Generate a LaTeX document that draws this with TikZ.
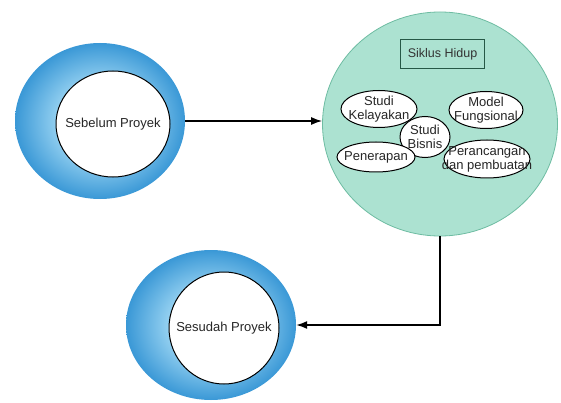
\documentclass[tikz,border=0pt]{standalone}
\usepackage{fontspec}
\setmainfont{Liberation Sans}
\usetikzlibrary{shapes.geometric,arrows.meta}
\definecolor{blueout}{RGB}{58,152,214}
\definecolor{bluein}{RGB}{152,211,242}
\definecolor{tealfill}{RGB}{172,226,209}
\definecolor{tealline}{RGB}{110,188,162}
\definecolor{boxline}{RGB}{38,88,70}
\pgfdeclareradialshading{ringshade}{\pgfpoint{0bp}{0bp}}{color(0bp)=(bluein); color(12bp)=(bluein); color(25bp)=(blueout); color(50bp)=(blueout)}
\begin{document}
\begin{tikzpicture}[x=1pt,y=-1pt,
  ring/.style={ellipse, shade, shading=ringshade, draw=none, inner sep=0pt},
  hole/.style={ellipse, fill=white, draw=black, line width=1pt, inner sep=0pt},
  holetext/.style={font=\fontsize{13}{15}\selectfont, inner sep=0pt, text=black!85},
  phase/.style={ellipse, fill=white, draw=black, line width=1pt, inner sep=0pt},
  phasetext/.style={align=center, inner sep=0pt, font=\fontsize{13}{14}\selectfont, text=black!85},
  link/.style={-{Latex[length=11pt,width=8pt]}, line width=1.4pt}]
\useasboundingbox (0,0) rectangle (561,403);
% before project
\node[ring, minimum width=170pt, minimum height=156pt] (sebR) at (100,121) {};
\node[hole, minimum width=114pt, minimum height=106pt, label={[holetext]center:Sebelum Proyek}] (seb) at (113,124) {};
% after project
\node[ring, minimum width=170pt, minimum height=150pt] (sesR) at (211,325) {};
\node[hole, minimum width=110pt, minimum height=112pt, label={[holetext]center:Sesudah Proyek}] (ses) at (224,328) {};
% life cycle
\node[ellipse, fill=tealfill, draw=tealline, line width=0.8pt, inner sep=0pt, minimum width=235pt, minimum height=224pt] (cyc) at (440,124) {};
\node[rectangle, draw=boxline, line width=1.8pt, minimum width=84pt, minimum height=29pt, inner sep=0pt, font=\fontsize{12.5}{14}\selectfont, text=black!80] (title) at (442.5,54) {Siklus Hidup};
\node[phase, minimum width=76pt, minimum height=37pt, label={[phasetext]center:Studi\\Kelayakan}] (sk) at (379,109) {};
\node[phase, minimum width=50pt, minimum height=41pt, label={[phasetext]center:Studi\\Bisnis}] (sb) at (425,137) {};
\node[phase, minimum width=74pt, minimum height=37pt, label={[phasetext]center:Model\\Fungsional}] (mf) at (486,110) {};
\node[phase, minimum width=78pt, minimum height=30pt, label={[phasetext]center:Penerapan}] (pn) at (376,157) {};
\node[phase, minimum width=86pt, minimum height=38pt, label={[phasetext]center:Perancangan\\dan pembuatan}] (pp) at (487,159) {};
% connectors
\draw[link] (sebR.east) -- (sebR.east -| cyc.west);
\draw[link] (cyc.south) |- (sesR.east);
\end{tikzpicture}
\end{document}
